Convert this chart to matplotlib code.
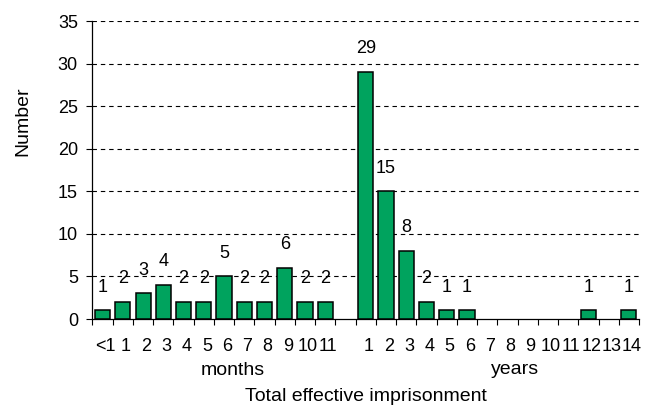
import matplotlib
matplotlib.use("Agg")
import matplotlib.pyplot as plt
import matplotlib.transforms as mtransforms
import numpy as np

# ---- data ----
month_labels = ["<1", "1", "2", "3", "4", "5", "6", "7", "8", "9", "10", "11"]
month_values = [1, 2, 3, 4, 2, 2, 5, 2, 2, 6, 2, 2]
gap_labels = [""]
gap_values = [0]
year_labels = ["1", "2", "3", "4", "5", "6", "7", "8", "9", "10", "11", "12", "13", "14"]
year_values = [29, 15, 8, 2, 1, 1, 0, 0, 0, 0, 0, 1, 0, 1]

labels = month_labels + gap_labels + year_labels
values = np.array(month_values + gap_values + year_values)

plt.rcParams["font.family"] = ["Liberation Sans", "DejaVu Sans"]

W, H = 656, 408
fig = plt.figure(figsize=(W / 100, H / 100), dpi=100)
ax = fig.add_axes([92.5 / W, 1 - 319 / H, (639 - 92.5) / W, (319 - 21) / H])

x = np.arange(len(labels))
nz = values > 0
ax.bar(x[nz], values[nz], width=0.75, color="#00A35E", edgecolor="black",
       linewidth=1.1, zorder=3)

for xi, v in zip(x[nz], values[nz]):
    ax.annotate(str(v), (xi, v), xytext=(0, 13.5), textcoords="offset points",
                ha="center", va="baseline", fontsize=13, zorder=4)

ax.set_xlim(-0.5, len(labels) - 0.5)
ax.set_ylim(0, 35)
ax.set_yticks(np.arange(0, 36, 5))
ax.tick_params(axis="y", direction="out", length=4.5, width=0.8, labelsize=13, pad=6)

ax.set_xticks(x)
ax.set_xticklabels(labels)
ax.set_xticks(np.arange(-0.5, len(labels), 1.0), minor=True)
ax.tick_params(axis="x", which="major", length=0, labelsize=13, pad=13.5)
ax.tick_params(axis="x", which="minor", direction="out", length=4.5, width=0.8)
off = mtransforms.ScaledTranslation(3 / 100, 0, fig.dpi_scale_trans)
for t in ax.get_xticklabels():
    t.set_transform(t.get_transform() + off)

for yv in range(5, 36, 5):
    ax.axhline(yv, color="black", linewidth=0.8, linestyle=(0, (4, 3.5)), zorder=1)

for s in ["top", "right"]:
    ax.spines[s].set_visible(False)
ax.spines["left"].set_linewidth(0.9)
ax.spines["bottom"].set_linewidth(0.9)

fig.text(23 / W, 1 - 121 / H, "Number", rotation=90, ha="center", va="center", fontsize=14)
fig.text(233 / W, 1 - 375 / H, "months", ha="center", va="baseline", fontsize=14)
fig.text(515 / W, 1 - 374 / H, "years", ha="center", va="baseline", fontsize=14)
fig.text(366 / W, 1 - 401 / H, "Total effective imprisonment", ha="center", va="baseline", fontsize=14)

fig.savefig("out.png", dpi=100)
